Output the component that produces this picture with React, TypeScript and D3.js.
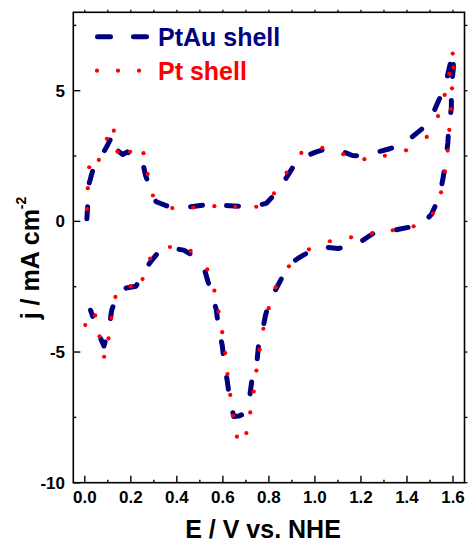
import * as d3 from "d3";
import React from "react";

// axis ticks
const xTicks = [0, 0.2, 0.4, 0.6, 0.8, 1.0, 1.2, 1.4, 1.6];
const xMinor = [0.1, 0.3, 0.5, 0.7, 0.9, 1.1, 1.3, 1.5];
const yTicks = [-10, -5, 0, 5];
const yMinor = [-7.5, -2.5, 2.5, 7.5];

// PtAu shell (E / V, j / mA cm-2), anodic then cathodic sweep
const ptAuShell: [number, number][] = [
  [0.009, 0.1], [0.013, 0.67], [0.019, 1.46], [0.038, 2.05], [0.066, 2.4],
  [0.094, 2.84], [0.122, 3.32], [0.14, 2.72], [0.165, 2.56], [0.185, 2.66],
  [0.205, 2.55], [0.23, 2.42], [0.248, 2.4], [0.264, 1.76], [0.286, 1.21],
  [0.31, 0.75], [0.361, 0.58], [0.426, 0.53], [0.47, 0.57], [0.516, 0.62],
  [0.586, 0.62], [0.63, 0.6], [0.673, 0.58], [0.742, 0.58], [0.79, 0.7],
  [0.829, 1.07], [0.873, 1.63], [0.91, 2.15], [0.938, 2.42], [1.006, 2.66],
  [1.05, 2.78], [1.097, 2.75], [1.163, 2.52], [1.21, 2.5], [1.252, 2.61],
  [1.317, 2.76], [1.37, 2.9], [1.412, 3.16], [1.474, 3.6], [1.505, 3.95],
  [1.528, 4.43], [1.557, 5.0], [1.572, 5.4], [1.581, 5.76], [1.6, 6.46],
  [1.602, 5.9], [1.595, 5.3], [1.593, 5.0], [1.593, 4.36], [1.588, 4.0],
  [1.581, 3.58], [1.578, 3.03], [1.572, 2.6], [1.567, 2.2], [1.557, 1.67],
  [1.548, 1.25], [1.535, 0.83], [1.506, 0.26], [1.47, -0.05], [1.429, -0.19],
  [1.342, -0.34], [1.3, -0.4], [1.252, -0.47], [1.194, -0.8], [1.15, -0.95],
  [1.1, -1.04], [1.035, -0.98], [0.99, -1.1], [0.948, -1.3], [0.926, -1.42],
  [0.904, -1.55], [0.887, -1.72], [0.86, -2.1], [0.832, -2.57], [0.812, -2.9],
  [0.799, -3.17], [0.785, -3.6], [0.777, -3.97], [0.757, -4.57], [0.748, -5.37],
  [0.728, -5.94], [0.716, -6.74], [0.697, -7.34], [0.67, -7.45], [0.647, -7.47],
  [0.632, -6.86], [0.625, -6.5], [0.619, -6.1], [0.607, -5.5], [0.602, -5.1],
  [0.597, -4.73], [0.581, -4.1], [0.576, -3.7], [0.571, -3.37], [0.55, -2.7],
  [0.535, -2.3], [0.523, -1.93], [0.477, -1.34], [0.43, -1.1], [0.387, -1.04],
  [0.317, -1.21], [0.29, -1.5], [0.257, -1.9], [0.223, -2.48], [0.18, -2.55],
  [0.141, -2.8], [0.117, -3.4], [0.104, -4.16], [0.083, -4.77], [0.07, -4.5],
  [0.05, -4.03], [0.025, -3.4],
];

// Pt shell
const ptShell: [number, number][] = [
  [0.009, 0.47], [0.013, 1.27], [0.019, 2.07], [0.061, 2.35], [0.096, 3.16],
  [0.126, 3.47], [0.142, 2.67], [0.197, 2.66], [0.255, 2.61], [0.273, 1.81],
  [0.296, 0.99], [0.38, 0.51], [0.471, 0.53], [0.563, 0.58], [0.654, 0.56],
  [0.745, 0.56], [0.822, 1.07], [0.877, 1.87], [0.941, 2.62], [1.032, 2.81],
  [1.123, 2.57], [1.215, 2.38], [1.304, 2.51], [1.396, 2.72], [1.486, 3.23],
  [1.535, 4.03], [1.564, 4.84], [1.584, 5.64], [1.599, 6.42], [1.602, 5.89],
  [1.596, 5.09], [1.591, 4.3], [1.584, 3.5], [1.577, 2.71], [1.565, 1.91],
  [1.548, 1.11], [1.513, 0.31], [1.429, -0.19], [1.338, -0.34], [1.248, -0.46],
  [1.157, -0.61], [1.065, -0.76], [0.974, -1.07], [0.887, -1.72], [0.83, -2.52],
  [0.799, -3.32], [0.776, -4.11], [0.76, -4.91], [0.746, -5.71], [0.734, -6.51],
  [0.719, -7.31], [0.702, -8.1], [0.661, -8.24], [0.644, -7.43], [0.632, -6.64],
  [0.62, -5.84], [0.61, -5.04], [0.597, -4.24], [0.581, -3.45], [0.563, -2.65],
  [0.532, -1.84], [0.46, -1.13], [0.37, -0.98], [0.284, -1.42], [0.251, -2.21],
  [0.199, -2.48], [0.133, -2.89], [0.115, -3.69], [0.103, -4.48], [0.084, -5.18],
  [0.064, -4.4], [0.045, -3.6], [0.002, -3.97],
];

const NAVY = "#000080";
const RED = "#ff0000";
const FONT = "'Liberation Sans', Arial, sans-serif";

export default function App() {
  const width = 468;
  const height = 544;
  const left = 73.3, right = 464.5, top = 12.3, bottom = 482.7;

  const x = d3.scaleLinear().domain([-0.05, 1.65]).range([left, right]);
  const y = d3.scaleLinear().domain([-10, 8]).range([bottom, top]);

  const line = d3.line<[number, number]>()
    .x((d) => x(d[0]))
    .y((d) => y(d[1]));

  const fmt = d3.format(".1f");

  return (
    <svg width={width} height={height}
      style={{ position: "absolute", left: 0, top: 0, display: "block", background: "#fff" }}
      fontFamily={FONT} fontWeight="bold">
      {/* curves */}
      <path d={line(ptAuShell) || undefined} fill="none" stroke={NAVY} strokeWidth={5}
        strokeDasharray="12 24" strokeLinecap="round" strokeLinejoin="round" />
      {ptShell.map((d, i) => (
        <circle key={i} cx={x(d[0])} cy={y(d[1])} r={2.1} fill={RED} />
      ))}

      {/* frame */}
      <rect x={left} y={top} width={right - left} height={bottom - top}
        fill="none" stroke="#000" strokeWidth={1.6} />

      {/* bottom / top ticks */}
      {xTicks.map((t) => (
        <g key={"xt" + t}>
          <line x1={x(t)} x2={x(t)} y1={bottom} y2={bottom - 7} stroke="#000" strokeWidth={1.4} />
          <line x1={x(t)} x2={x(t)} y1={top} y2={top - 2.5} stroke="#000" strokeWidth={1.2} />
          <text x={x(t)} y={503} textAnchor="middle" fontSize={17}>{fmt(t)}</text>
        </g>
      ))}
      {xMinor.map((t) => (
        <g key={"xm" + t}>
          <line x1={x(t)} x2={x(t)} y1={bottom} y2={bottom - 3} stroke="#000" strokeWidth={1.4} />
          <line x1={x(t)} x2={x(t)} y1={top} y2={top - 2.5} stroke="#000" strokeWidth={1.2} />
        </g>
      ))}

      {/* left / right ticks */}
      {yTicks.map((t) => (
        <g key={"yt" + t}>
          <line x1={left} x2={left + 7} y1={y(t)} y2={y(t)} stroke="#000" strokeWidth={1.4} />
          <line x1={right} x2={right + 3} y1={y(t)} y2={y(t)} stroke="#000" strokeWidth={1.2} />
          <text x={65} y={y(t)} dy="0.36em" textAnchor="end" fontSize={17}>{t}</text>
        </g>
      ))}
      {yMinor.map((t) => (
        <g key={"ym" + t}>
          <line x1={left} x2={left + 3} y1={y(t)} y2={y(t)} stroke="#000" strokeWidth={1.4} />
          <line x1={right} x2={right + 3} y1={y(t)} y2={y(t)} stroke="#000" strokeWidth={1.2} />
        </g>
      ))}

      {/* axis titles */}
      <text x={263} y={538} textAnchor="middle" fontSize={25}>E / V vs. NHE</text>
      <text transform="translate(39,258) rotate(-90)" textAnchor="middle" fontSize={25}>
        j / mA cm<tspan fontSize={14} dy={-13}>-2</tspan>
      </text>

      {/* legend */}
      <line x1={97.5} x2={147} y1={36.7} y2={36.7} stroke={NAVY} strokeWidth={5}
        strokeDasharray="13 23" strokeLinecap="round" />
      <text x={158} y={45.5} fontSize={25} fill={NAVY}>PtAu shell</text>
      {[97, 118, 139].map((cx) => (
        <circle key={cx} cx={cx} cy={70.7} r={2.1} fill={RED} />
      ))}
      <text x={158} y={79.5} fontSize={25} fill={RED}>Pt shell</text>
    </svg>
  );
}
